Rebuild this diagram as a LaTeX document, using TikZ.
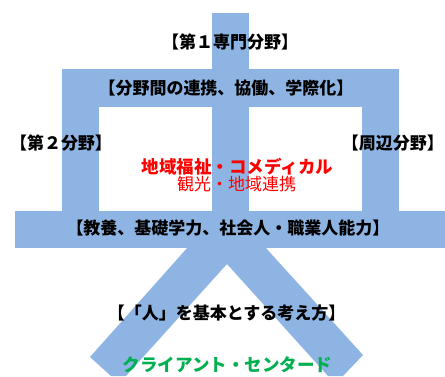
\documentclass[tikz,border=0pt]{standalone}
\usepackage{fontspec}
\setmainfont{Noto Sans CJK JP}
\definecolor{barblue}{HTML}{8EB4E3}
\definecolor{txtred}{HTML}{FF0000}
\definecolor{txtgreen}{HTML}{00B050}
\tikzset{
  bar/.style={fill=barblue, draw=none},
  lbl/.style={inner sep=0pt, font=\fontsize{17}{18}\selectfont\bfseries, text=black},
  redlbl/.style={inner sep=0pt, font=\fontsize{17.5}{18}\selectfont\bfseries, text=txtred},
  redthin/.style={inner sep=0pt, font=\fontsize{17}{18}\selectfont, text=txtred},
  greenlbl/.style={inner sep=0pt, font=\fontsize{17.5}{18}\selectfont\bfseries, text=txtgreen}
}
\begin{document}
\begin{tikzpicture}[x=1pt,y=-1pt]
\useasboundingbox (0,0) rectangle (445,376);
% frame of bars
\fill[bar] (212,13) rectangle (249,212);
\fill[bar] (62,69) rectangle (399,107);
\fill[bar] (62,69) rectangle (99,212);
\fill[bar] (362,69) rectangle (399,212);
\fill[bar] (15,211) rectangle (445,248);
% the two legs
\fill[bar] (188,247) -- (90,357) -- (111,376) -- (126,376) -- (227,264)
  -- (328,376) -- (343,376) -- (363,355) -- (265,247) -- cycle;
% texts
\node[lbl] (t1) at (230,42) {【第１専門分野】};
\node[lbl] (t2) at (226,88) {【分野間の連携、協働、学際化】};
\node[lbl] (t3) at (61,143) {【第２分野】};
\node[lbl, anchor=east] (t4) at (444,143) {【周辺分野】};
\node[redlbl] (r1) at (237.5,167) {地域福祉・コメディカル};
\node[redthin] (r2) at (236.5,184) {観光・地域連携};
\node[lbl] (t5) at (228,228) {【教養、基礎学力、社会人・職業人能力】};
\node[lbl] (t6) at (226.5,313) {【「人」を基本とする考え方】};
\node[greenlbl] (g1) at (227.5,365) {クライアント・センタード};
\end{tikzpicture}
\end{document}
